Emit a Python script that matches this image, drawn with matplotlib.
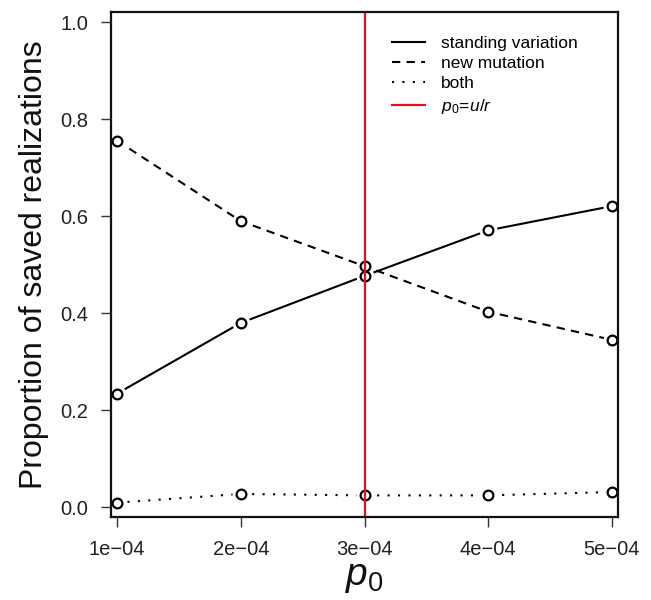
import matplotlib
matplotlib.use("Agg")
import matplotlib.pyplot as plt
from matplotlib.lines import Line2D

plt.rcParams['font.family'] = ['Liberation Sans', 'DejaVu Sans']
plt.rcParams['mathtext.fontset'] = 'custom'
plt.rcParams['mathtext.rm'] = 'Liberation Sans'
plt.rcParams['mathtext.it'] = 'Liberation Sans:italic'

p0 = [1e-4, 2e-4, 3e-4, 4e-4, 5e-4]
standing = [0.234, 0.380, 0.477, 0.571, 0.621]
new_mut = [0.756, 0.590, 0.497, 0.403, 0.345]
both = [0.009, 0.027, 0.024, 0.024, 0.031]
p0_ur = 3e-4
xtick_labels = ["1e\u221204", "2e\u221204", "3e\u221204", "4e\u221204", "5e\u221204"]
yticks = [0.0, 0.2, 0.4, 0.6, 0.8, 1.0]

fig = plt.figure(figsize=(6.51, 6.0), dpi=100)
ax = fig.add_axes([111/651, 1-517/600, (618-111)/651, (517-12)/600])

series = [(standing, '-'), (new_mut, (0, (4, 3))), (both, (0, (1, 4)))]
for vals, ls in series:
    ax.plot(p0, vals, color='black', lw=1.5, linestyle=ls, zorder=2,
            dash_capstyle='butt')
    ax.plot(p0, vals, linestyle='none', marker='o', ms=13, mfc='white',
            mec='white', mew=0, zorder=3)
for vals, ls in series:
    ax.plot(p0, vals, linestyle='none', marker='o', ms=7, mfc='white',
            mec='black', mew=1.6, zorder=4)

ax.axvline(p0_ur, color='#e8101a', lw=1.6, zorder=5)

ax.set_xlim(0.951e-4, 5.049e-4)
ax.set_ylim(-0.0206, 1.0216)
ax.set_xticks(p0)
ax.set_xticklabels(xtick_labels)
ax.set_yticks(yticks)
ax.set_yticklabels([f"{v:.1f}" for v in yticks])
ax.tick_params(axis='both', labelsize=14.5, length=7.5, width=1.0,
               colors='#333333', labelcolor='#222222')
ax.tick_params(axis='y', pad=9)
ax.tick_params(axis='x', pad=9)
for s in ax.spines.values():
    s.set_linewidth(1.6)
    s.set_color('#111111')
    s.set_zorder(6)

ax.set_ylabel("Proportion of saved realizations", fontsize=23, labelpad=8,
              color='#111111')
ax.set_xlabel(r"$p_0$", fontsize=28, labelpad=0, color='#111111')

handles = [
    Line2D([], [], color='black', lw=1.5, linestyle='-'),
    Line2D([], [], color='black', lw=1.5, linestyle=(0, (4, 3))),
    Line2D([], [], color='black', lw=1.5, linestyle=(0, (1, 4))),
    Line2D([], [], color='#e8101a', lw=1.6),
]
labels = ["standing variation", "new mutation", "both", r"$p_0\!=\!u/r$"]
ax.legend(handles, labels, loc='upper left', bbox_to_anchor=(274/507, 0.967),
          frameon=False, fontsize=12.5, handlelength=1.9, handletextpad=0.9,
          labelspacing=0.3, borderaxespad=0)

fig.savefig("out.png", dpi=100)
